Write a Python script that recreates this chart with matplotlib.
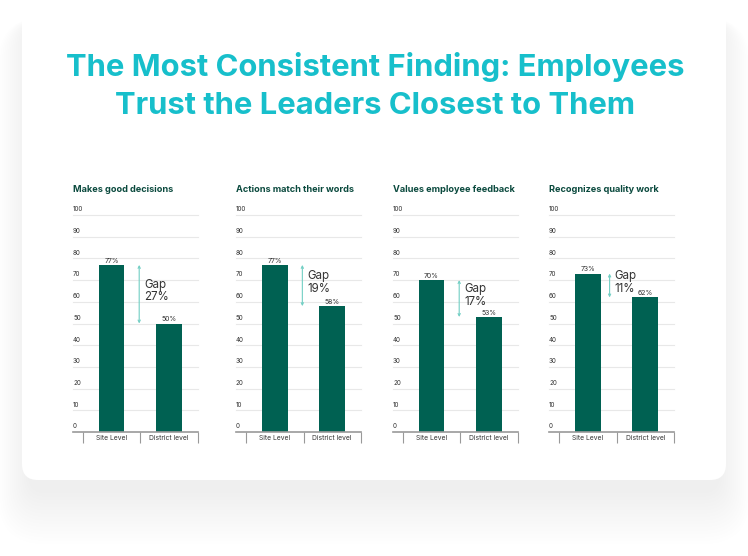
import matplotlib
matplotlib.use('Agg')
from matplotlib import pyplot as plt
from matplotlib.patches import FancyBboxPatch

# data
titles = ['Makes good decisions', 'Actions match their words',
          'Values employee feedback', 'Recognizes quality work']
categories = ['Site Level', 'District level']
site = [77, 77, 70, 73]
district = [50, 58, 53, 62]
yticks = [0, 10, 20, 30, 40, 50, 60, 70, 80, 90, 100]

# layout in pixels (left label x, left separator, right separator)
label_x = [73, 236, 393, 549]
sep_left = [82.7, 246, 402.7, 559]
sep_right = [198, 361, 518, 674]
arrow_shift = [0.48, 0.48, 0.48, 0.38]

W, H = 748, 556
bar_color = '#006152'
arrow_color = '#72CFC4'
title_color = '#17BFCB'
head_color = '#0B4A3E'

plt.rcParams['font.family'] = ['Inter', 'DejaVu Sans']

fig = plt.figure(figsize=(W / 100, H / 100), dpi=100)
fig.patch.set_facecolor('white')

# card with soft shadow, mostly below
bg = fig.add_axes([0, 0, 1, 1], zorder=0)
bg.set_xlim(0, W)
bg.set_ylim(H, 0)
bg.axis('off')
for i in range(16):
    p = 2 + i * 2.0
    sh = FancyBboxPatch((30, 20 + p * 0.9), 688, 470 - p * 0.2,
                        boxstyle='round,pad=%.1f,rounding_size=%.1f' % (p, 16 + p),
                        fc='black', ec='none', alpha=0.0045)
    bg.add_patch(sh)
card = FancyBboxPatch((22, 5), 704, 475, boxstyle='round,pad=0,rounding_size=16',
                      fc='white', ec='none')
bg.add_patch(card)

fig.text(375 / W, 1 - 86 / H,
         'The Most Consistent Finding: Employees\nTrust the Leaders Closest to Them',
         ha='center', va='center', fontsize=22.3, fontweight='bold',
         color=title_color, linespacing=1.45)

y0, y100 = 432, 215
for i in range(4):
    unit = (sep_right[i] - sep_left[i]) / 2
    left_px = label_x[i]
    ax = fig.add_axes([left_px / W, 1 - y0 / H, (sep_right[i] - left_px) / W,
                       (y0 - y100) / H], zorder=2)
    ax.patch.set_alpha(0)
    ax.set_xlim(-0.5 - (sep_left[i] - left_px) / unit, 1.5)
    ax.set_ylim(0, 100)

    for v in yticks[1:]:
        ax.axhline(v, color='#E8E8E8', lw=0.8, zorder=0, clip_on=False)
    for v in yticks:
        ax.text(0, v + 1.2, str(v), transform=ax.get_yaxis_transform(),
                ha='left', va='bottom', fontsize=4.5, color='#333333')

    vals = [site[i], district[i]]
    ax.bar([0, 1], vals, width=0.45, color=bar_color, zorder=2)
    for x, v in zip([0, 1], vals):
        ax.text(x, v + 0.6, '%d%%' % v, ha='center', va='bottom',
                fontsize=5, color='#333333')

    ax_x = arrow_shift[i]
    ax.annotate('', xy=(ax_x, district[i]), xytext=(ax_x, site[i]),
                arrowprops=dict(arrowstyle='<->', color=arrow_color, lw=0.8,
                                mutation_scale=4, shrinkA=0, shrinkB=0))
    ax.text(ax_x + 5 / unit, (site[i] + district[i]) / 2 + 1.5,
            'Gap\n%d%%' % (site[i] - district[i]), ha='left', va='center',
            fontsize=8.3, color='#333333', linespacing=1.1)

    for s in ['top', 'right', 'left']:
        ax.spines[s].set_visible(False)
    ax.spines['bottom'].set_color('#999999')
    ax.spines['bottom'].set_linewidth(1.2)
    ax.set_yticks([])
    ax.set_xticks([0, 1])
    ax.set_xticklabels(categories, fontsize=4.8, color='#333333')
    ax.set_xticks([-0.5, 0.5, 1.5], minor=True)
    ax.tick_params(axis='x', which='major', length=0, pad=2.5)
    ax.tick_params(axis='x', which='minor', length=8, width=0.8, color='#999999')

    fig.text(left_px / W, 1 - 190 / H, titles[i], ha='left', va='center',
             fontsize=6.6, fontweight='bold', color=head_color)

fig.savefig('out.png', dpi=100, facecolor='white')
